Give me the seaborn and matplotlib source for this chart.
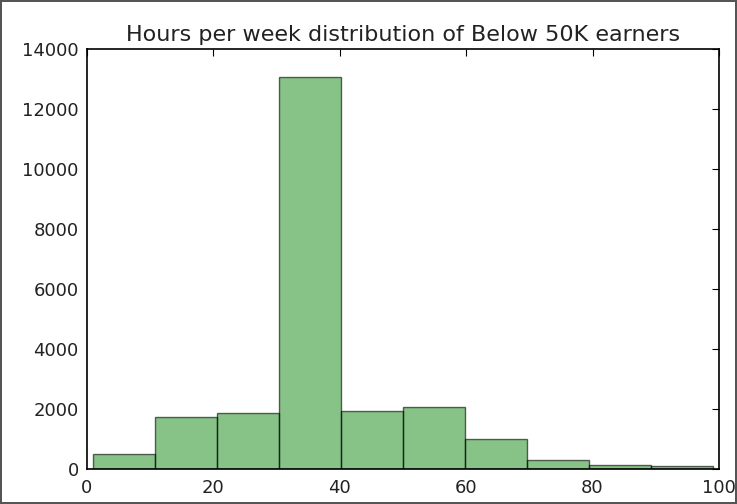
import numpy as np
import pandas as pd
import matplotlib
matplotlib.use('Agg')
import matplotlib.pyplot as plt
import seaborn as sns

# histogram bins (hours per week) and counts per bin
bin_edges = [1.0, 10.8, 20.6, 30.4, 40.2, 50.0, 59.8, 69.6, 79.4, 89.2, 99.0]
counts = [490, 1730, 1880, 13080, 1940, 2070, 1000, 300, 130, 110]
x_ticks = [0, 20, 40, 60, 80, 100]
y_ticks = [0, 2000, 4000, 6000, 8000, 10000, 12000, 14000]

centers = [(bin_edges[i] + bin_edges[i + 1]) / 2 for i in range(len(counts))]
df = pd.DataFrame({'hours': centers, 'n': counts})

sns.set_style('white')
plt.rcParams['font.family'] = ['DejaVu Sans']

fig = plt.figure(figsize=(7.37, 5.04), dpi=100)
ax = fig.add_axes([0.118, 0.0694, 0.8575, 0.8333])

sns.histplot(data=df, x='hours', weights='n', bins=bin_edges, ax=ax,
             color='green', alpha=0.47, edgecolor=(0, 0, 0, 0.6), linewidth=1.0)

ax.set_xlim(0, 100)
ax.set_ylim(0, 14000)
ax.set_xticks(x_ticks)
ax.set_yticks(y_ticks)
ax.set_xlabel('')
ax.set_ylabel('')
ax.tick_params(direction='in', top=True, right=True, length=5, width=0.8,
               labelsize=13, colors='black', pad=6)
ax.tick_params(axis='y', pad=6)
ax.tick_params(axis='x', pad=7)
for lab in ax.get_xticklabels() + ax.get_yticklabels():
    lab.set_color('#222222')
for s in ax.spines.values():
    s.set_color('black')
    s.set_linewidth(1.2)
ax.set_title('Hours per week distribution of Below 50K earners', fontsize=16,
             color='#222222', pad=6)

# thin frame round the whole picture
fig.patch.set_edgecolor('#555555')
fig.patch.set_linewidth(1.5)

fig.savefig('out.png', dpi=100, edgecolor=fig.get_edgecolor())
